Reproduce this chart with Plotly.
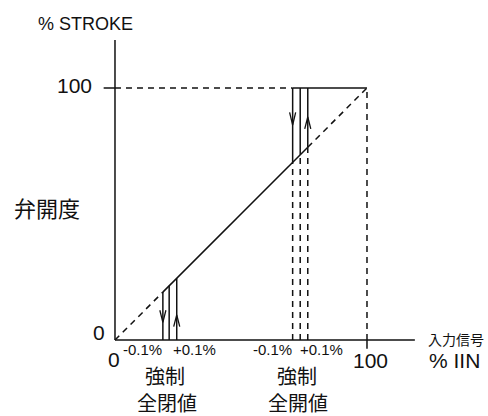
import plotly.graph_objects as go

# ---- data (percent units) ----
axis_max = [119, 119]                 # x-axis end, y-axis end
full_scale = 100
close_lines_x = [19, 21.5, 24.5]      # forced full-close switching lines
open_lines_x = [70.5, 73.5, 76.5]     # forced full-open switching lines
down_arrows = [(19, 7.0, 11.8), (70.5, 85.3, 90.3)]    # x, tip y, tail y
up_arrows = [(24.5, 10.0, 5.3), (76.5, 88.5, 83.8)]    # x, tip y, tail y
tick_labels_x = ["0", "100"]
pct_labels = ["-0.1%", "+0.1%", "-0.1%", "+0.1%"]
pct_label_x = [11.1, 31.7, 62.7, 82.1]

BLACK = "#111111"
FJ = "Noto Sans CJK JP"
FL = "Liberation Sans, Arial, sans-serif"

fig = go.Figure()

def seg(xs, ys, dash=None, width=1.5):
    fig.add_trace(go.Scatter(x=xs, y=ys, mode="lines",
                             line=dict(color=BLACK, width=width, dash=dash or "solid"),
                             hoverinfo="skip", showlegend=False))

DASH = "6px,5px"

# axes
seg([0, axis_max[0]], [0, 0])
seg([0, 0], [0, axis_max[1]])
# ticks at 100
seg([-4.5, 0], [full_scale, full_scale])
seg([full_scale, full_scale], [0, -3.5])

# dashed reference lines
seg([0, open_lines_x[0]], [full_scale, full_scale], DASH)
seg([full_scale, full_scale], [0, full_scale], DASH)
seg([0, close_lines_x[0]], [0, close_lines_x[0]], DASH)
seg([open_lines_x[-1], full_scale], [open_lines_x[-1], full_scale], DASH)

# solid characteristic line
seg([close_lines_x[0], open_lines_x[-1]], [close_lines_x[0], open_lines_x[-1]])
seg([open_lines_x[0], full_scale], [full_scale, full_scale])

# close switching verticals
for x in close_lines_x:
    seg([x, x], [0, x])
# open switching verticals
for x in open_lines_x:
    seg([x, x], [x, full_scale])
    seg([x, x], [0, x], DASH)

# arrowheads
for x, tip, tail in down_arrows + up_arrows:
    seg([x - 1.2, x, x + 1.2], [tail, tip, tail], width=1.3)

def txt(x, y, s, size, font=FL):
    fig.add_annotation(x=x, y=y, xref="x", yref="y", text=s, showarrow=False,
                       font=dict(size=size, color=BLACK, family=font),
                       xanchor="center", yanchor="middle")

txt(-11.9, 125.4, "% STROKE", 18)
txt(-15.9, 101.0, "100", 21)
txt(-6.5, 3.0, "0", 21)
txt(-27.0, 52.6, "弁開度", 22, FJ)
txt(-0.4, -7.7, tick_labels_x[0], 21)
txt(101.2, -8.3, tick_labels_x[1], 21)
for xx, s in zip(pct_label_x, pct_labels):
    txt(xx, -3.6, s, 15)
txt(135.3, 0.4, "入力信号", 14, FJ)
txt(134.7, -8.1, "% IIN", 21)
txt(19.8, -14.1, "強制", 20, FJ)
txt(20.8, -24.7, "全閉値", 20, FJ)
txt(72.2, -14.1, "強制", 20, FJ)
txt(72.6, -24.7, "全開値", 20, FJ)

fig.update_layout(
    width=488, height=416,
    margin=dict(l=0, r=0, t=0, b=0),
    paper_bgcolor="white", plot_bgcolor="white",
    xaxis=dict(range=[-45.63, 148.02], visible=False, fixedrange=True),
    yaxis=dict(range=[-30.16, 134.92], visible=False, fixedrange=True),
)

# remove the default 8px page margin so the 488x416 figure fills the window exactly
fig.write_html("out.html",
               config={"displayModeBar": False, "staticPlot": True},
               post_script="document.body.style.margin='0';document.body.style.overflow='hidden';")
